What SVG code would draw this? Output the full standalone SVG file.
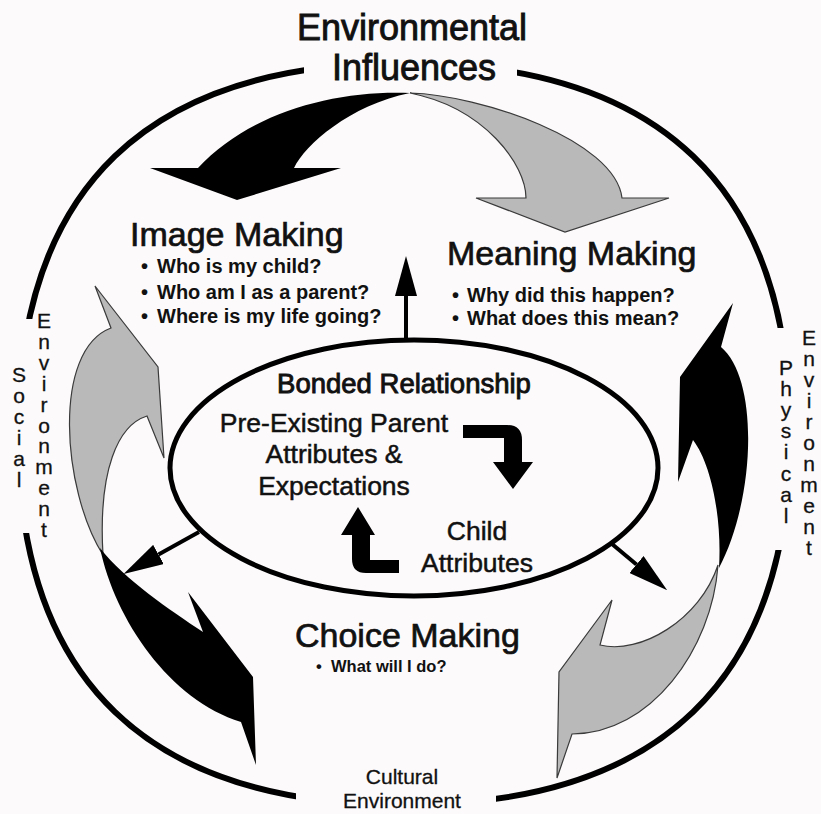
<svg xmlns="http://www.w3.org/2000/svg" width="821" height="814" viewBox="0 0 821 814">
  <defs>
    <style>
      text { font-family: "Liberation Sans", Arial, Helvetica, sans-serif; fill: #111; stroke: #111; stroke-width: 0.4; }
      .title { font-size: 36px; text-anchor: middle; stroke-width: 0.9; }
      .head { font-size: 34px; stroke-width: 0.7; }
      .bullet { font-size: 20px; font-weight: bold; stroke-width: 0; }
      .bullet-sm { font-size: 16.5px; font-weight: bold; stroke-width: 0; }
      .core { font-size: 26.5px; text-anchor: middle; stroke-width: 0.5; }
      .core-title { font-size: 27.5px; text-anchor: middle; stroke-width: 0.9; }
      .side { font-size: 21px; text-anchor: middle; stroke-width: 0.3; }
      .ring { fill: none; stroke: #000; stroke-width: 6; }
      .black { fill: #000; }
      .grey { fill: #b9b9b9; stroke: #3a3a3a; stroke-width: 1.2; }
      .conn { stroke: #000; stroke-width: 4; fill: none; marker-end: url(#head); }
    </style>
    <marker id="head" viewBox="0 0 40 22" refX="0" refY="11" markerWidth="40" markerHeight="22" markerUnits="userSpaceOnUse" orient="auto">
      <path d="M0,0 L40,11 L0,22 Z" fill="#000"/>
    </marker>
    <!-- openings in the outer ring where the environment labels sit -->
    <mask id="ring-gaps" maskUnits="userSpaceOnUse" x="0" y="0" width="821" height="814">
      <rect width="821" height="814" fill="#fff"/>
      <rect x="304" y="0" width="213" height="130" fill="#000"/>
      <rect x="0" y="319" width="70" height="214" fill="#000"/>
      <rect x="740" y="328" width="81" height="222" fill="#000"/>
      <rect x="296" y="740" width="200" height="74" fill="#000"/>
    </mask>
  </defs>

  <rect width="821" height="814" fill="#fcfafa"/>

  <!-- outer environment ring -->
  <g id="environment-ring">
    <path class="ring" mask="url(#ring-gaps)" d="M790,434 C790,680.3 660.3,805 404,805 C147.7,805 18,680.3 18,434 C18,187.7 147.7,63 404,63 C660.3,63 790,187.7 790,434 Z"/>
  </g>

  <g id="environmental-influences">
    <text class="title" x="412" y="40">Environmental</text>
    <text class="title" x="414" y="80">Influences</text>
  </g>

  <g id="social-environment">
    <text class="side" x="19" y="382"><tspan x="19">S</tspan><tspan x="19" dy="21">o</tspan><tspan x="19" dy="21">c</tspan><tspan x="19" dy="21">i</tspan><tspan x="19" dy="21">a</tspan><tspan x="19" dy="21">l</tspan></text>
    <text class="side" x="44" y="328"><tspan x="44">E</tspan><tspan x="44" dy="20.9">n</tspan><tspan x="44" dy="20.9">v</tspan><tspan x="44" dy="20.9">i</tspan><tspan x="44" dy="20.9">r</tspan><tspan x="44" dy="20.9">o</tspan><tspan x="44" dy="20.9">n</tspan><tspan x="44" dy="20.9">m</tspan><tspan x="44" dy="20.9">e</tspan><tspan x="44" dy="20.9">n</tspan><tspan x="44" dy="20.9">t</tspan></text>
  </g>

  <g id="physical-environment">
    <text class="side" x="786" y="375"><tspan x="786">P</tspan><tspan x="786" dy="21.1">h</tspan><tspan x="786" dy="21.1">y</tspan><tspan x="786" dy="21.1">s</tspan><tspan x="786" dy="21.1">i</tspan><tspan x="786" dy="21.1">c</tspan><tspan x="786" dy="21.1">a</tspan><tspan x="786" dy="21.1">l</tspan></text>
    <text class="side" x="809" y="345"><tspan x="809">E</tspan><tspan x="809" dy="21">n</tspan><tspan x="809" dy="21">v</tspan><tspan x="809" dy="21">i</tspan><tspan x="809" dy="21">r</tspan><tspan x="809" dy="21">o</tspan><tspan x="809" dy="21">n</tspan><tspan x="809" dy="21">m</tspan><tspan x="809" dy="21">e</tspan><tspan x="809" dy="21">n</tspan><tspan x="809" dy="21">t</tspan></text>
  </g>

  <g id="cultural-environment">
    <text class="side" x="402" y="784">Cultural</text>
    <text class="side" x="402" y="808">Environment</text>
  </g>

  <!-- curved cycle arrows between the three making processes -->
  <g id="cycle-arrows">
    <path id="arrow-top-grey" class="grey" d="M410,93 C480,95 615,140 622,198 L669,198 L565,232 L476,198 L526,198 C526,165 485,108 410,93 Z"/>
    <path id="arrow-top-black" class="black" d="M410,93 C335,90 250,112 198,168 L150,168 L237,200 L341,168 L294,168 C305,145 350,105 410,93 Z"/>
    <path id="arrow-left-grey" class="grey" d="M95,286 L158,367 L164,458 L147,416 C118,425 98,470 103,555 C62,490 52,350 111,328 Z"/>
    <path id="arrow-left-black" class="black" d="M100,548 C115,620 170,700 241,722 L256,765 L253,677 L188,592 L203,632 C170,610 125,580 100,548 Z"/>
    <path id="arrow-right-grey" class="grey" d="M718,565 C712,650 650,734 572,734 L557,778 L559,672 L612,600 L600,645 C640,655 700,620 718,565 Z"/>
    <path id="arrow-right-black" class="black" d="M733,303 L721,347 C760,380 755,500 719,568 C722,520 712,465 693,440 L678,482 L680,377 Z"/>
  </g>

  <g id="image-making">
    <text class="head" x="130" y="246">Image Making</text>
    <text class="bullet" y="273"><tspan x="141">•</tspan> <tspan x="157">Who is my child?</tspan></text>
    <text class="bullet" y="299"><tspan x="141">•</tspan> <tspan x="157">Who am I as a parent?</tspan></text>
    <text class="bullet" y="323"><tspan x="141">•</tspan> <tspan x="157">Where is my life going?</tspan></text>
  </g>

  <g id="meaning-making">
    <text class="head" x="447" y="265">Meaning Making</text>
    <text class="bullet" y="302"><tspan x="452">•</tspan> <tspan x="467">Why did this happen?</tspan></text>
    <text class="bullet" y="325"><tspan x="452">•</tspan> <tspan x="467">What does this mean?</tspan></text>
  </g>

  <g id="choice-making">
    <text class="head" x="295" y="647">Choice Making</text>
    <text class="bullet-sm" y="672"><tspan x="316">•</tspan> <tspan x="331">What will I do?</tspan></text>
  </g>

  <g id="bonded-relationship">
    <ellipse cx="414" cy="468" rx="244" ry="128" fill="none" stroke="#000" stroke-width="5"/>
    <text class="core-title" x="404" y="393">Bonded Relationship</text>
    <text class="core" x="334" y="432">Pre-Existing Parent</text>
    <text class="core" x="334" y="463">Attributes &amp;</text>
    <text class="core" x="334" y="495">Expectations</text>
    <text class="core" x="477" y="540">Child</text>
    <text class="core" x="477" y="572">Attributes</text>
    <!-- bent arrows: parent attributes -> child attributes -> parent attributes -->
    <path class="black" d="M463,425 H507 Q522,425 522,440 V462 H533 L513,489 L493,462 H504 V438 H463 Z"/>
    <path class="black" d="M399,573 H366 Q352,573 352,559 V535 H341 L358,507 L375,535 H370 V560 H399 Z"/>
  </g>

  <g id="connectors">
    <line class="conn" x1="406" y1="341" x2="406" y2="296"/>
    <line class="conn" x1="199" y1="532" x2="158.5" y2="554.5"/>
    <line class="conn" x1="612" y1="544" x2="636.5" y2="564.5"/>
  </g>
</svg>
